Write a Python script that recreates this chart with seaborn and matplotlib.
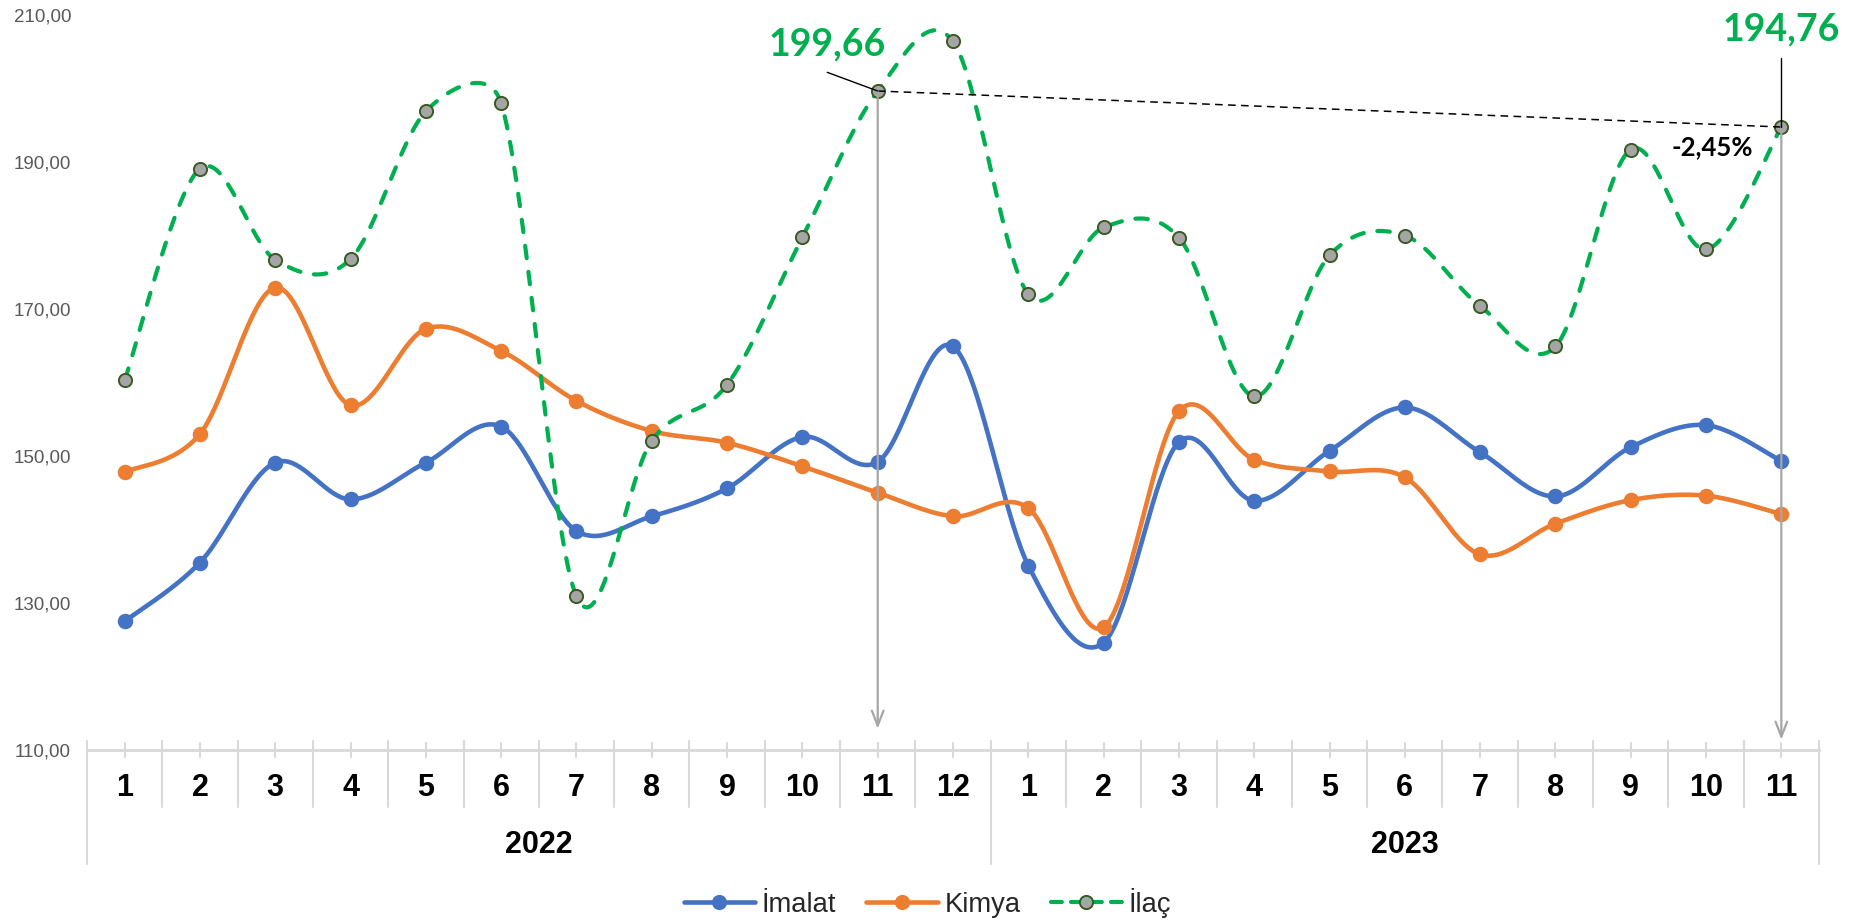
import numpy as np
import pandas as pd
import matplotlib
matplotlib.use("Agg")
import matplotlib.pyplot as plt
from matplotlib.lines import Line2D
import seaborn as sns

# ---------------- data ----------------
years = ["2022", "2023"]
months = [1, 2, 3, 4, 5, 6, 7, 8, 9, 10, 11, 12, 1, 2, 3, 4, 5, 6, 7, 8, 9, 10, 11]
month_year = ["2022"] * 12 + ["2023"] * 11
imalat = [127.5, 135.5, 149.1, 144.1, 149.1, 154.0, 139.8, 141.8, 145.6, 152.6, 149.2, 164.9,
          135.1, 124.6, 151.9, 143.9, 150.7, 156.6, 150.5, 144.5, 151.2, 154.2, 149.3]
kimya = [147.8, 153.0, 172.9, 156.9, 167.3, 164.3, 157.5, 153.4, 151.8, 148.6, 145.0, 141.8,
         142.9, 126.7, 156.1, 149.5, 147.9, 147.1, 136.6, 140.8, 144.0, 144.6, 142.1]
ilac = [160.3, 189.1, 176.7, 176.8, 196.9, 198.0, 130.9, 152.1, 159.7, 179.75, 199.66, 206.4,
        172.0, 181.1, 179.7, 158.1, 177.3, 180.0, 170.4, 164.9, 191.7, 178.1, 194.76]
series_names = ["İmalat", "Kimya", "İlaç"]
y_ticks = [110, 130, 150, 170, 190, 210]
change_label = "-2,45%"

BLUE = "#4472C4"
ORANGE = "#ED7D31"
GREEN = "#00B050"
GRAY_M = "#A5A5A5"
GRID = "#D9D9D9"

sns.set_theme(style="white")
plt.rcParams["font.family"] = ["Liberation Sans", "DejaVu Sans"]

idx = np.arange(len(months))

W, H = 1861, 921
AX_L, AX_R, AX_T, AX_B = 87, 1819, 15, 750  # axes box in pixels
PX_X = (AX_R - AX_L) / len(months)          # px per category
PX_Y = (AX_B - AX_T) / (210 - 110)          # px per unit


def smooth(x, y, n=40):
    """Excel-like smoothed line: Bezier segments, tangent length
    min(chord/6, segment/2), computed in pixel space."""
    P = np.column_stack([np.asarray(x, float) * PX_X, np.asarray(y, float) * PX_Y])
    E = np.vstack([P[0], P, P[-1]])
    segs = []
    for i in range(len(P) - 1):
        p0, p1, p2, p3 = E[i], E[i + 1], E[i + 2], E[i + 3]
        d12 = np.linalg.norm(p2 - p1)
        d02 = np.linalg.norm(p2 - p0)
        d13 = np.linalg.norm(p3 - p1)
        b1 = p1 + ((p2 - p0) / d02 * min(d02 / 6, d12 / 2) if d02 > 0 else 0)
        b2 = p2 - ((p3 - p1) / d13 * min(d13 / 6, d12 / 2) if d13 > 0 else 0)
        t = np.linspace(0, 1, n, endpoint=(i == len(P) - 2))[:, None]
        segs.append((1 - t) ** 3 * p1 + 3 * (1 - t) ** 2 * t * b1 + 3 * (1 - t) * t ** 2 * b2 + t ** 3 * p2)
    S = np.vstack(segs)
    return S[:, 0] / PX_X, S[:, 1] / PX_Y


fig = plt.figure(figsize=(W / 100, H / 100), dpi=100)
ax = fig.add_axes([AX_L / W, 1 - AX_B / H, (AX_R - AX_L) / W, (AX_B - AX_T) / H])

styles = [
    dict(vals=imalat, color=BLUE, face=BLUE, edge=BLUE, dashed=False),
    dict(vals=kimya, color=ORANGE, face=ORANGE, edge=ORANGE, dashed=False),
    dict(vals=ilac, color=GREEN, face=GRAY_M, edge="#3B5A23", dashed=True),
]

z = 3
for name, st in zip(series_names, styles):
    sx, sy = smooth(idx, st["vals"])
    dfl = pd.DataFrame({"x": sx, "y": sy})
    n_before = len(ax.lines)
    sns.lineplot(data=dfl, x="x", y="y", sort=False, estimator=None, ax=ax,
                 color=st["color"], lw=3.3 if not st["dashed"] else 3.0, zorder=z)
    ln = ax.lines[n_before]
    if st["dashed"]:
        ln.set_dashes((3.0, 3.3))
        ln.set_dash_capstyle("round")
    else:
        ln.set_solid_capstyle("round")
    dfp = pd.DataFrame({"x": idx, "y": st["vals"]})
    sns.scatterplot(data=dfp, x="x", y="y", ax=ax, s=95 if not st["dashed"] else 90,
                    color=st["face"], edgecolor=st["edge"], linewidth=1.4, zorder=z + 1)
    z += 2

ax.set_xlim(-0.5, len(months) - 0.5)
ax.set_ylim(110, 210)
ax.set_xlabel("")
ax.set_ylabel("")
ax.set_xticks([])
ax.set_yticks(y_ticks)
ax.set_yticklabels([f"{v:.2f}".replace(".", ",") for v in y_ticks])
ax.tick_params(axis="y", length=0, pad=11.5, labelsize=13.5, labelcolor="#595959")
for s in ["left", "right", "top"]:
    ax.spines[s].set_visible(False)
ax.spines["bottom"].set_color(GRID)
ax.spines["bottom"].set_linewidth(2.0)
ax.grid(False)

# multi-level category axis
tr = ax.get_xaxis_transform()
ph = float(AX_B - AX_T)


def fy(px_below):
    return -px_below / ph


year_bounds = [0, 12, len(months)]
for b in range(len(months) + 1):
    xb = b - 0.5
    y1 = fy(114) if b in year_bounds else fy(57)
    ax.plot([xb, xb], [fy(-9), y1], transform=tr, color=GRID, lw=1.5, clip_on=False, zorder=1)
for i in idx:
    ax.plot([i, i], [fy(-7), fy(7)], transform=tr, color=GRID, lw=1.5, clip_on=False, zorder=1)
    ax.text(i, fy(38), str(months[i]), transform=tr, ha="center", va="center",
            fontsize=22, fontweight="bold", color="black")
for yr in years:
    pos = [i for i in idx if month_year[i] == yr]
    c = (pos[0] - 0.5 + pos[-1] + 0.5) / 2
    ax.text(c, fy(95), yr, transform=tr, ha="center", va="center",
            fontsize=22, fontweight="bold", color="black")

# annotations
i_a, i_b = 10, 22
v_a, v_b = ilac[i_a], ilac[i_b]
ax.plot([i_a, i_b], [v_a, v_b], color="black", lw=1.1, dashes=(5, 3.5), zorder=9)
arrow_kw = dict(arrowstyle="->,head_length=0.9,head_width=0.35", color="#A6A6A6", lw=1.6,
                shrinkA=0, shrinkB=0)
ax.annotate("", xy=(i_a, 112.9), xytext=(i_a, v_a), arrowprops=arrow_kw, zorder=10)
ax.annotate("", xy=(i_b, 111.4), xytext=(i_b, v_b), arrowprops=arrow_kw, zorder=10)

ax.plot([i_a - 0.67, i_a], [202.2, v_a], color="black", lw=1.0, zorder=10)
ax.text(i_a - 0.67, 206.0, f"{v_a:.2f}".replace(".", ","), ha="center", va="center",
        fontsize=27, fontweight="bold", color=GREEN, family=["Lato", "DejaVu Sans"])
ax.plot([i_b, i_b], [204.15, v_b], color="black", lw=1.0, zorder=10)
ax.text(i_b, 208.0, f"{v_b:.2f}".replace(".", ","), ha="center", va="center",
        fontsize=27, fontweight="bold", color=GREEN, family=["Lato", "DejaVu Sans"], clip_on=False)
ax.text(21.08, 192.0, change_label, ha="center", va="center",
        fontsize=18.5, fontweight="bold", color="black", family=["Lato", "DejaVu Sans"])

# legend
handles = []
for name, st in zip(series_names, styles):
    h = Line2D([], [], color=st["color"], lw=3.3 if not st["dashed"] else 3.0,
               marker="o", markersize=9.5, markerfacecolor=st["face"],
               markeredgecolor=st["edge"], markeredgewidth=1.4,
               linestyle="--" if st["dashed"] else "-")
    if st["dashed"]:
        h.set_dashes((2.6, 2.2))
        h.set_dash_capstyle("round")
    handles.append(h)
fig.legend(handles, series_names, loc="center", bbox_to_anchor=(0.4984, 1 - 903 / H),
           ncol=3, frameon=False, fontsize=19.7, handlelength=2.6, columnspacing=1.1,
           handletextpad=0.25)

fig.savefig("out.png", dpi=100)
